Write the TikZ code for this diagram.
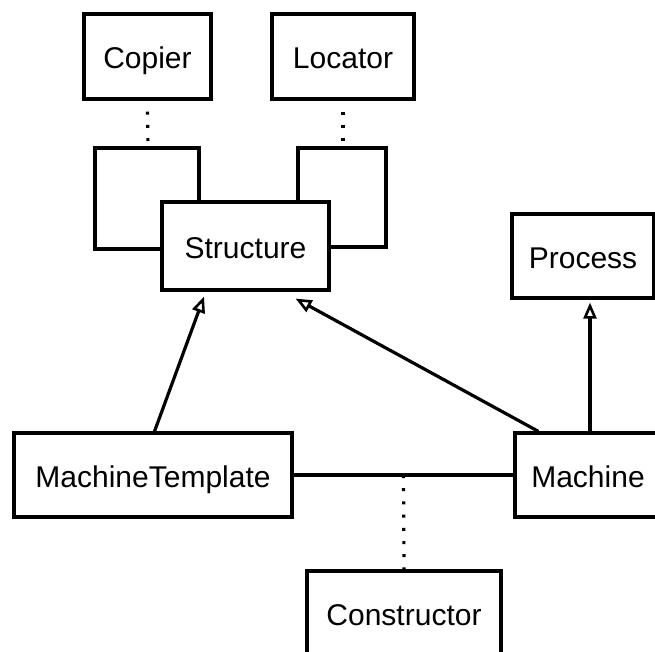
\documentclass[tikz,border=0pt]{standalone}
\usepackage{fontspec}
\setmainfont{Liberation Sans}
\usetikzlibrary{arrows.meta,calc}
\begin{document}
\begin{tikzpicture}[x=1pt,y=-1pt,
  box/.style={draw,line width=3.2pt,inner sep=0pt,text height=24pt,text depth=0pt,font=\fontsize{30}{36}\selectfont},
  ln/.style={line width=3.2pt},
  dots/.style={line width=3.2pt,dash pattern=on 3pt off 10.2pt},
  gen/.style={line width=3.2pt,-{Triangle[open,length=16pt,width=13pt,line width=2.6pt]}}]
\useasboundingbox (0,0) rectangle (655,651);
\clip (0,0) rectangle (655,651);
\node[box,minimum width=127pt,minimum height=85pt] (copier) at (147.5,56.5) {Copier};
\node[box,minimum width=142pt,minimum height=85pt] (locator) at (343,56.5) {Locator};
\node[box,minimum width=167pt,minimum height=88pt] (structure) at (245.5,246) {Structure};
\node[box,minimum width=142pt,minimum height=84pt] (process) at (583,256) {Process};
\node[box,minimum width=278pt,minimum height=84pt] (mt) at (153,475) {MachineTemplate};
\node[box,minimum width=146pt,minimum height=84pt] (machine) at (588,475) {Machine};
\node[box,minimum width=194pt,minimum height=84pt] (constructor) at (404,613) {Constructor};
% self-association loops
\coordinate (la) at (95,249);
\coordinate (lb) at (95,148);
\coordinate (lc) at (199,148);
\coordinate (lq) at (148,148);
\coordinate (ra) at (298,148);
\coordinate (rb) at (386,148);
\coordinate (rc) at (386,247);
\coordinate (rq) at (343,148);
\draw[ln,line join=miter] (structure.west |- la) -- (la) -- (lb) -- (lc) -- (lc |- structure.north);
\draw[ln,line join=miter] (ra |- structure.north) -- (ra) -- (rb) -- (rc) -- (structure.east |- rc);
\draw[dots] ([yshift=-11pt]copier.south) -- (lq);
\draw[dots] ([yshift=-11pt]locator.south) -- (rq);
% generalizations
\draw[gen] ([xshift=1.5pt]mt.north) -- ([xshift=-41.5pt,yshift=-5pt]structure.south);
\draw[gen] ([xshift=25pt]machine.north west) -- ([xshift=-35pt,yshift=-7pt]structure.south east);
\draw[gen] ([xshift=2pt]machine.north) -- ([xshift=2pt,yshift=-3pt]machine.north |- process.south);
% association with association class
\draw[ln] (mt.east) -- (machine.west);
\coordinate (mid) at ($(mt.east)!0.5!(machine.west)$);
\draw[dots] (mid) -- (constructor.north);
\end{tikzpicture}
\end{document}
